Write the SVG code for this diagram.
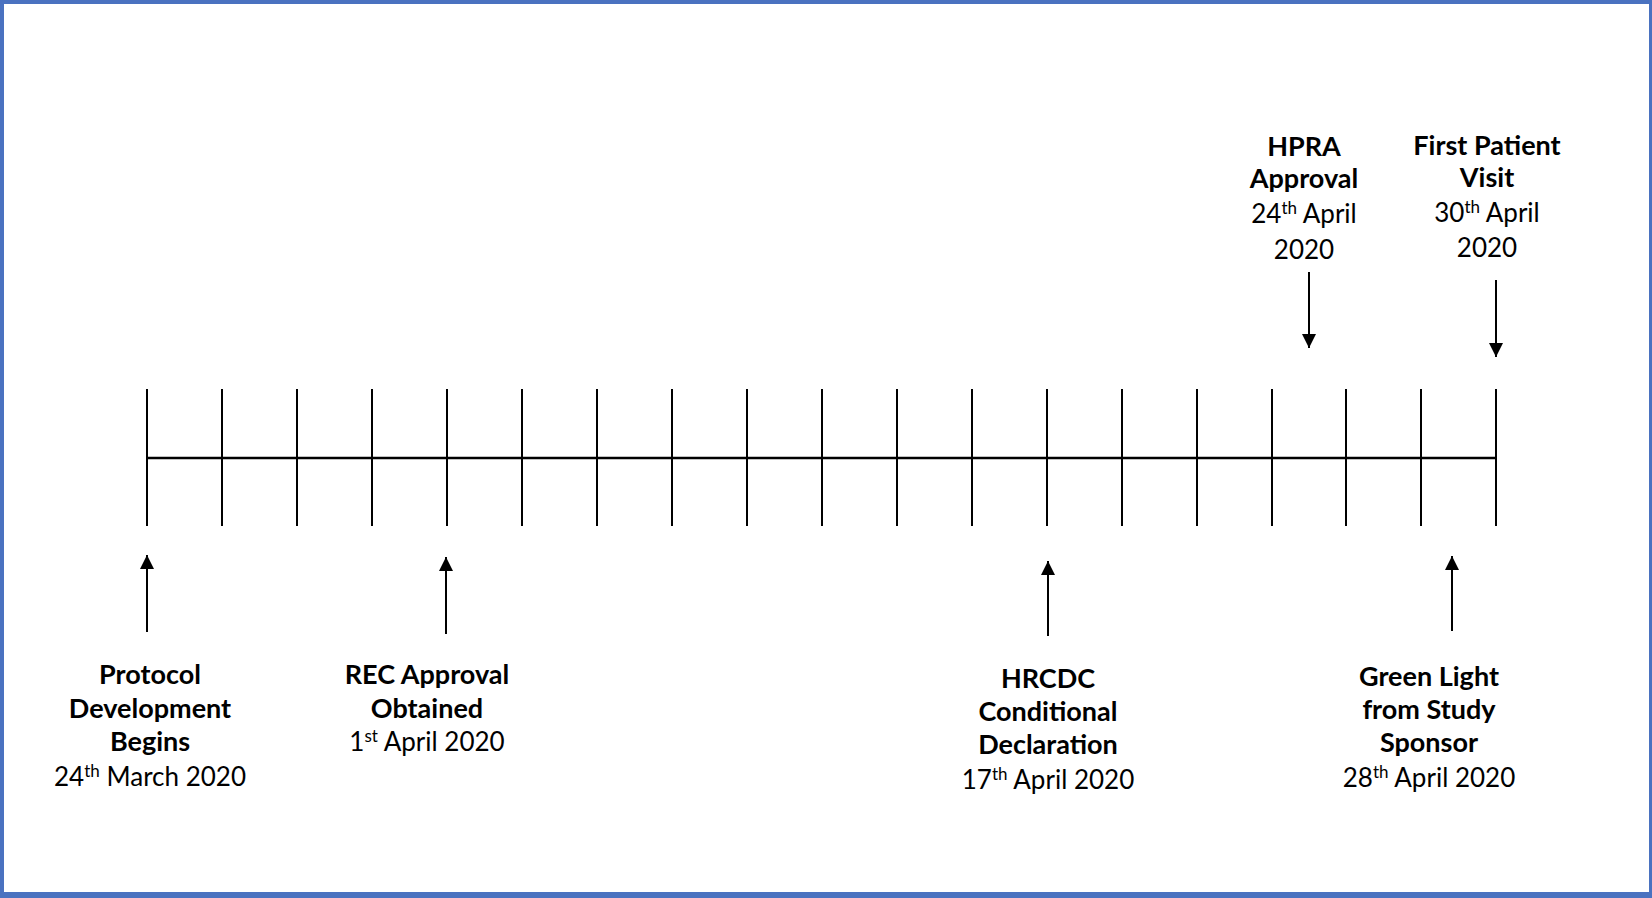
<svg xmlns="http://www.w3.org/2000/svg" width="1652" height="898" viewBox="0 0 1652 898">
<style>
.t{font-family:Lato,"Open Sans","Liberation Sans",sans-serif;font-size:26px;fill:#000;text-anchor:middle}
.b{font-weight:bold;font-size:27px}
.s{font-size:17px}
.tick{stroke:#000;stroke-width:2}
.arr{stroke:#000;stroke-width:2;marker-end:url(#ah)}
</style>
<defs>
<marker id="ah" markerUnits="userSpaceOnUse" markerWidth="14" markerHeight="14" refX="14" refY="7" orient="auto">
<path d="M0,0 L14,7 L0,14 z" fill="#000"/>
</marker>
</defs>
<rect x="0" y="0" width="1652" height="898" fill="#fff"/>
<g id="frame" fill="#4A72C0">
<rect x="0" y="0" width="1652" height="4"/>
<rect x="0" y="0" width="4" height="898"/>
<rect x="1649" y="0" width="3" height="898"/>
<rect x="0" y="892" width="1652" height="6"/>
</g>
<g id="timeline">
<line x1="147" y1="458" x2="1496" y2="458" stroke="#000" stroke-width="2.5"/>
<line class="tick" x1="147" y1="389" x2="147" y2="526"/>
<line class="tick" x1="222" y1="389" x2="222" y2="526"/>
<line class="tick" x1="297" y1="389" x2="297" y2="526"/>
<line class="tick" x1="372" y1="389" x2="372" y2="526"/>
<line class="tick" x1="447" y1="389" x2="447" y2="526"/>
<line class="tick" x1="522" y1="389" x2="522" y2="526"/>
<line class="tick" x1="597" y1="389" x2="597" y2="526"/>
<line class="tick" x1="672" y1="389" x2="672" y2="526"/>
<line class="tick" x1="747" y1="389" x2="747" y2="526"/>
<line class="tick" x1="822" y1="389" x2="822" y2="526"/>
<line class="tick" x1="897" y1="389" x2="897" y2="526"/>
<line class="tick" x1="972" y1="389" x2="972" y2="526"/>
<line class="tick" x1="1047" y1="389" x2="1047" y2="526"/>
<line class="tick" x1="1122" y1="389" x2="1122" y2="526"/>
<line class="tick" x1="1197" y1="389" x2="1197" y2="526"/>
<line class="tick" x1="1272" y1="389" x2="1272" y2="526"/>
<line class="tick" x1="1346" y1="389" x2="1346" y2="526"/>
<line class="tick" x1="1421" y1="389" x2="1421" y2="526"/>
<line class="tick" x1="1496" y1="389" x2="1496" y2="526"/>
</g>
<g id="connectors">
<line class="arr" x1="147" y1="632" x2="147" y2="555"/>
<line class="arr" x1="446" y1="634" x2="446" y2="557"/>
<line class="arr" x1="1048" y1="636" x2="1048" y2="561"/>
<line class="arr" x1="1452" y1="631" x2="1452" y2="556"/>
<line class="arr" x1="1309" y1="272" x2="1309" y2="348"/>
<line class="arr" x1="1496" y1="280" x2="1496" y2="357"/>
</g>
<g id="protocol">
<text class="t b" x="150" y="684">Protocol</text>
<text class="t b" x="150" y="718">Development</text>
<text class="t b" x="150" y="751">Begins</text>
<text class="t" x="150" y="786">24<tspan class="s" dy="-9">th</tspan><tspan dy="9"> March 2020</tspan></text>
</g>
<g id="rec">
<text class="t b" x="427" y="684">REC Approval</text>
<text class="t b" x="427" y="718">Obtained</text>
<text class="t" x="427" y="751">1<tspan class="s" dy="-9">st</tspan><tspan dy="9"> April 2020</tspan></text>
</g>
<g id="hrcdc">
<text class="t b" x="1048" y="687.5">HRCDC</text>
<text class="t b" x="1048" y="721">Conditional</text>
<text class="t b" x="1048" y="754">Declaration</text>
<text class="t" x="1048" y="789">17<tspan class="s" dy="-9">th</tspan><tspan dy="9"> April 2020</tspan></text>
</g>
<g id="greenlight">
<text class="t b" x="1429" y="685.5">Green Light</text>
<text class="t b" x="1429" y="719">from Study</text>
<text class="t b" x="1429" y="752">Sponsor</text>
<text class="t" x="1429" y="787">28<tspan class="s" dy="-9">th</tspan><tspan dy="9"> April 2020</tspan></text>
</g>
<g id="hpra">
<text class="t b" x="1304" y="156">HPRA</text>
<text class="t b" x="1304" y="188">Approval</text>
<text class="t" x="1304" y="223">24<tspan class="s" dy="-9">th</tspan><tspan dy="9"> April</tspan></text>
<text class="t" x="1304" y="259">2020</text>
</g>
<g id="firstpatient">
<text class="t b" x="1487" y="154.5">First Patient</text>
<text class="t b" x="1487" y="186.5">Visit</text>
<text class="t" x="1487" y="222">30<tspan class="s" dy="-9">th</tspan><tspan dy="9"> April</tspan></text>
<text class="t" x="1487" y="257">2020</text>
</g>
</svg>
